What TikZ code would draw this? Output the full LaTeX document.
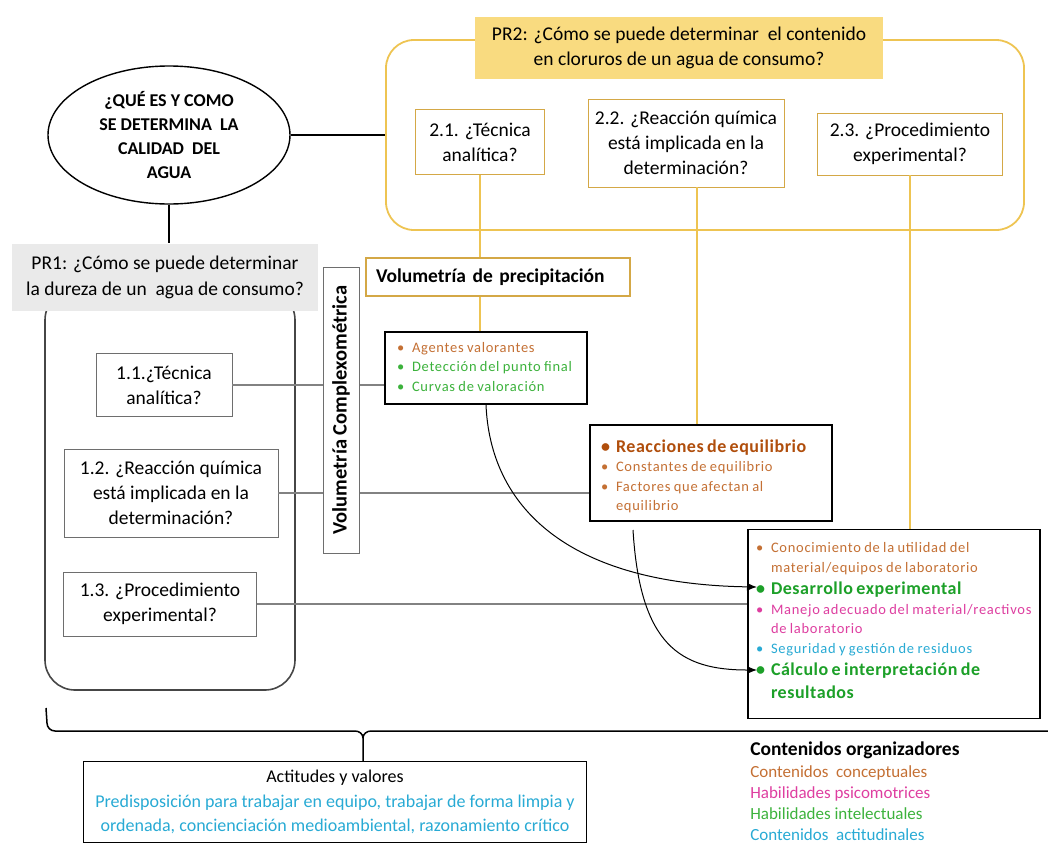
\documentclass[tikz,border=0pt]{standalone}
\usepackage{fontspec}
\setmainfont{Carlito}
\usetikzlibrary{positioning}
\usetikzlibrary{shapes.geometric}
\usetikzlibrary{arrows.meta}

\definecolor{goldline}{RGB}{238,196,82}
\definecolor{goldbox}{RGB}{212,168,70}
\definecolor{headfill}{RGB}{249,219,128}
\definecolor{greyfill}{RGB}{234,234,234}
\definecolor{boxgray}{RGB}{110,110,110}
\definecolor{linegray}{RGB}{130,130,130}
\definecolor{framegray}{RGB}{70,70,70}
\definecolor{brownC}{RGB}{196,112,52}
\definecolor{brownD}{RGB}{176,78,12}
\definecolor{greenC}{RGB}{60,178,60}
\definecolor{greenD}{RGB}{28,160,40}
\definecolor{magC}{RGB}{222,62,160}
\definecolor{cyanC}{RGB}{40,170,212}

% bullet line with hanging indent: colour, font, text
\newcommand{\itm}[3]{{#2\par\hangindent=15pt\hangafter=1\noindent
  \makebox[15pt][l]{\color{#1}\textbullet}{\color{#1}#3}\par}}
% extra room below a list (kept by a zero rule)
\newcommand{\tail}[1]{\par\vspace{#1}\hrule height 0pt}
\newcommand{\sm}{\fontsize{14.5}{19.5}\selectfont\addfontfeature{LetterSpace=5}}
\newcommand{\bg}{\fontsize{18}{22.5}\selectfont\bfseries\addfontfeature{LetterSpace=3}}

\begin{document}
\begin{tikzpicture}[x=1pt,y=-1pt,
    semithick,
    qbox/.style={draw=boxgray,fill=white,align=center,inner sep=0pt,
      font=\fontsize{19.5}{25}\selectfont},
    gbox/.style={qbox,draw=goldbox},
    listbox/.style={draw=black,line width=1.1pt,fill=white,align=left,
      inner xsep=12pt,inner ysep=0pt},
    link/.style={draw=linegray,line width=1.1pt},
    glink/.style={draw=goldline,line width=1.1pt},
    arrowline/.style={black,line width=1pt,-{Latex[length=10pt,width=8pt]}}
  ]
  \useasboundingbox (0,0) rectangle (1048,846);

  % containers
  \node[draw=goldline,line width=1.8pt,rounded corners=28pt,
    minimum width=638,minimum height=190] (pr2box) at (705,135) {};
  \node[draw=framegray,line width=1.6pt,rounded corners=30pt,
    minimum width=250,minimum height=400] (pr1box) at (170,490) {};

  % central question
  \node[ellipse,draw,line width=1.4pt,fill=white,minimum width=242,
    minimum height=138,inner sep=0pt,align=center,
    font=\fontsize{18}{24}\selectfont\bfseries] (agua) at (169,135)
    {¿QUÉ ES Y COMO\\SE DETERMINA~ LA\\CALIDAD~ DEL\\AGUA};
  \node[fill=greyfill,minimum width=306,minimum height=67,align=center,
    font=\fontsize{19.5}{26}\selectfont] (pr1) at (165,277)
    {PR1: ¿Cómo se puede determinar\\la dureza de un~ agua de consumo?};
  \node[fill=headfill,minimum width=408,minimum height=62,align=center,
    font=\fontsize{19.5}{25}\selectfont] (pr2) at (679,48)
    {PR2: ¿Cómo se puede determinar~ el contenido\\en cloruros de un agua de consumo?};

  \draw[line width=1.8pt] (agua.east) -- (pr2box.west);
  \draw[line width=1.8pt] (agua.south) -- (agua.south |- pr1.north);

  % questions PR1
  \node[qbox,minimum width=136,minimum height=63] (n11) at (164,385)
    {1.1.¿Técnica\\analítica?};
  \node[qbox,minimum width=214,minimum height=88] (n12) at (171,493)
    {1.2. ¿Reacción química\\está implicada en la\\determinación?};
  \node[qbox,minimum width=193,minimum height=64] (n13) at (160,604)
    {1.3. ¿Procedimiento\\experimental?};

  % questions PR2
  \node[gbox,minimum width=129,minimum height=65] (n21) at (480,142)
    {2.1. ¿Técnica\\analítica?};
  \node[gbox,minimum width=196,minimum height=88] (n22) at (686,143)
    {2.2. ¿Reacción química\\está implicada en la\\determinación?};
  \node[gbox,minimum width=185,minimum height=62] (n23) at (910,144)
    {2.3. ¿Procedimiento\\experimental?};

  % contents
  \node[draw=goldbox,line width=1.2pt,minimum width=264,minimum height=38,
    text width=244,align=left,inner xsep=10pt,
    font=\fontsize{19.5}{22}\selectfont\bfseries] (vdp) at (498,277)
    {Volumetría de precipitación};
  \node[listbox,text width=178,minimum height=72] (agentes) at (486,368)
    {\itm{brownC}{\sm}{Agentes valorantes}
     \itm{greenC}{\sm}{Detección del punto final}
     \itm{greenC}{\sm}{Curvas de valoración}\tail{12pt}};
  \node[listbox,text width=220,inner xsep=11pt,minimum height=96] (reac) at (711,473)
    {\itm{brownD}{\bg}{Reacciones de equilibrio}
     \itm{brownC}{\sm}{Constantes de equilibrio}
     \itm{brownC}{\sm}{Factores que afectan al\newline equilibrio}\tail{3pt}};
  \node[listbox,text width=276,inner xsep=8pt,minimum height=189] (big) at (894,624)
    {\itm{brownC}{\sm}{Conocimiento de la utilidad del\newline material/equipos de laboratorio}
     \itm{greenD}{\bg}{Desarrollo experimental}
     \itm{magC}{\sm}{Manejo adecuado del material/reactivos\newline de laboratorio}
     \itm{cyanC}{\sm}{Seguridad y gestión de residuos}
     \itm{greenD}{\bg}{Cálculo e interpretación de\newline resultados}\tail{16pt}};

  \draw[glink] (n21.south) -- (n21.south |- vdp.north);
  \draw[glink] (vdp.south -| n21.south) -- (agentes.north -| n21.south);
  \draw[glink] ([xshift=11pt]n22.south) -- ([xshift=11pt]n22.south |- reac.north);
  \draw[glink] (n23.south) -- (n23.south |- big.north);

  \draw[link] (n11.east) -- (n11.east -| agentes.west);
  \draw[link] (n12.east) -- (n12.east -| reac.west);
  \draw[link] (n13.east) -- (n13.east -| big.west);

  \node[draw=boxgray,fill=white,rotate=90,minimum width=286,minimum height=36,
    inner sep=0pt,font=\fontsize{20.5}{22}\selectfont\bfseries] (vc) at (341,410)
    {Volumetría Complexométrica};

  % arrows into the procedure box
  \coordinate (desa) at (757,587);
  \coordinate (calc) at (757,670);
  \coordinate (rstart) at (633,530);
  \draw[arrowline] (agentes.south) .. controls (490,505) and (565,584) .. (desa);
  \draw[arrowline] (rstart) .. controls (640,645) and (680,670) .. (calc);

  % attitudes
  \node[draw=black,line width=1.1pt,minimum width=503,minimum height=81,
    align=center,inner sep=0pt,font=\fontsize{18}{24.5}\selectfont] (act) at (335,802)
    {Actitudes y valores\\
     \color{cyanC}Predisposición para trabajar en equipo, trabajar de forma limpia y\\
     \color{cyanC}ordenada, concienciación medioambiental, razonamiento crítico};

  % brace
  \coordinate (tip) at (363,738);
  \draw[line width=1.5pt] (46,708) -- (47,723) to[out=-90,in=180] (55,731)
    -- (355,731) to[out=0,in=90] (tip) -- (tip |- act.north);
  \draw[line width=1.5pt] (tip) to[out=90,in=180] (371,731) -- (1048,731);

  % legend
  \node[anchor=north west,align=left,inner sep=0pt,
    font=\fontsize{17}{21.2}\selectfont] (legend) at (750,742)
    {{\fontsize{19.5}{21.2}\selectfont\bfseries Contenidos organizadores}\\
     \textcolor{brownC}{Contenidos~ conceptuales}\\
     \textcolor{magC}{Habilidades psicomotrices}\\
     \textcolor{greenC}{Habilidades intelectuales}\\
     \textcolor{cyanC}{Contenidos~ actitudinales}};
\end{tikzpicture}
\end{document}
